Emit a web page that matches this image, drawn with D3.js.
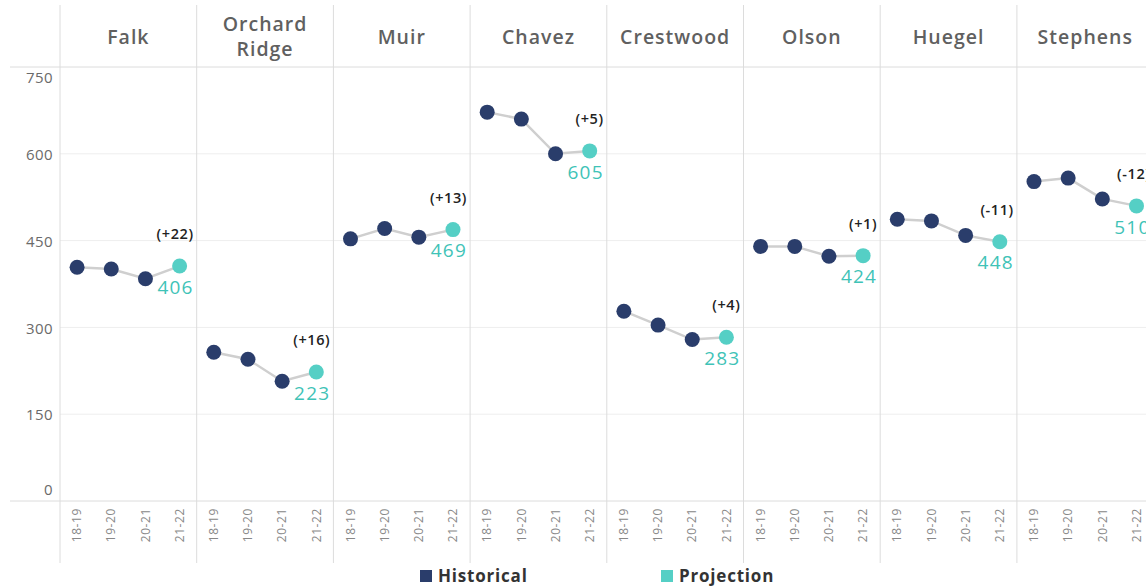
<!DOCTYPE html>
<html><head><meta charset="utf-8">
<script src="https://cdn.jsdelivr.net/npm/d3@7"></script>
<style>
html,body{margin:0;padding:0;background:#fff;overflow:hidden;}
svg{display:block;font-family:"Open Sans","DejaVu Sans",sans-serif;}
</style></head>
<body>
<svg id="chart" width="1146" height="588"></svg>
<script>
const schools = ["Falk","Orchard Ridge","Muir","Chavez","Crestwood","Olson","Huegel","Stephens"];
const years = ["18-19","19-20","20-21","21-22"];
const hist1819 = [404,257,453,672,328,440,487,552];
const hist1920 = [401,245,471,660,304,440,484,558];
const hist2021 = [384,207,456,600,279,423,459,522];
const proj2122 = [406,223,469,605,283,424,448,510];
const yTicks = [0,150,300,450,600,750];
const legendItems = ["Historical","Projection"];

(function(){
const NAVY = "#2a3d6b", TEAL = "#55cfc5", TEAL_TXT = "#3fc3b7", GRID = "#dcdcdc";
const svg = d3.select("#chart");

const leftX = 60, panelW = 136.7, topY = 67, bottomY = 501;
const outer = d3.scaleBand().domain(schools).range([leftX, leftX + panelW*schools.length]).padding(0);
const inner = d3.scalePoint().domain(years).range([0, outer.bandwidth()]).padding(0.5);
const y = d3.scaleLinear().domain([0,750]).range([bottomY, topY]);

// horizontal gridlines
svg.append("g").selectAll("line").data(yTicks.filter(t=>t>0 && t<750)).join("line")
  .attr("x1", leftX).attr("x2", 1146).attr("y1", d=>y(d)).attr("y2", d=>y(d))
  .attr("stroke", "#eeeeee").attr("stroke-width", 1);

// header line and bottom axis line
svg.append("line").attr("x1",10).attr("x2",1146).attr("y1",topY).attr("y2",topY).attr("stroke",GRID);
svg.append("line").attr("x1",10).attr("x2",1146).attr("y1",bottomY).attr("y2",bottomY).attr("stroke",GRID);

// panel dividers
const divs = schools.map(s=>outer(s)).concat([outer(schools[schools.length-1])+outer.bandwidth()]);
svg.append("g").selectAll("line").data(divs).join("line")
  .attr("x1", d=>d).attr("x2", d=>d).attr("y1", 5).attr("y2", 563)
  .attr("stroke", GRID).attr("stroke-width", 1);

// y axis labels
svg.append("g").selectAll("text").data(yTicks).join("text")
  .attr("x", 53).attr("y", d=> d===750 ? y(d)+11 : d===0 ? y(d)-11 : y(d)+1)
  .attr("dy","0.35em").attr("text-anchor","end")
  .attr("font-size", 15).attr("letter-spacing",0.4).attr("fill","#6a6a6a").text(d=>d);

// headers
schools.forEach(s=>{
  const cx = outer(s) + outer.bandwidth()/2;
  const words = s.split(" ");
  const t = svg.append("text").attr("text-anchor","middle").attr("fill","#606060")
    .attr("font-size",19.5).attr("font-weight",600).attr("letter-spacing",1);
  if (words.length === 1) {
    t.attr("x",cx).attr("y",37).attr("dy","0.35em").text(s);
  } else {
    words.forEach((w,i)=> t.append("tspan").attr("x",cx).attr("y", 24 + i*25).attr("dy","0.35em").text(w));
  }
});

// x tick labels
schools.forEach(s=>{
  years.forEach(yr=>{
    const x = outer(s) + inner(yr);
    svg.append("text").attr("transform",`translate(${x},508) rotate(-90)`)
      .attr("text-anchor","end").attr("dy","0.35em")
      .attr("font-size",12).attr("letter-spacing",0.6).attr("fill","#888").text(yr);
  });
});

// lines and dots
const line = d3.line().x(d=>d.x).y(d=>d.y);
schools.forEach((s,i)=>{
  const vals = [hist1819[i], hist1920[i], hist2021[i], proj2122[i]];
  const pts = vals.map((v,j)=>({x: outer(s)+inner(years[j]), y: y(v), v, proj: j===3}));
  svg.append("path").attr("d", line(pts)).attr("fill","none").attr("stroke","#cfcfcf").attr("stroke-width",2.5);
  svg.append("g").selectAll("circle").data(pts).join("circle")
    .attr("cx", d=>d.x).attr("cy", d=>d.y).attr("r", 7.5)
    .attr("fill", d=> d.proj ? TEAL : NAVY);
  const p = pts[3];
  const diff = proj2122[i] - hist2021[i];
  svg.append("text").attr("x", p.x+14).attr("y", p.y-32).attr("dy","0.35em")
    .attr("text-anchor","end").attr("font-size",14.5).attr("font-weight",600)
    .attr("letter-spacing",0.6).attr("fill","#222")
    .text(`(${diff>=0?"+":""}${diff})`);
  svg.append("text").attr("x", p.x+14).attr("y", p.y+21).attr("dy","0.35em")
    .attr("text-anchor","end").attr("font-size",19).attr("letter-spacing",1.2).attr("fill",TEAL_TXT)
    .text(proj2122[i]);
});

// legend
const legX = [420, 661];
legendItems.forEach((l,i)=>{
  svg.append("rect").attr("x",legX[i]).attr("y",570).attr("width",12).attr("height",12)
    .attr("fill", i===0 ? NAVY : TEAL);
  svg.append("text").attr("x",legX[i]+18).attr("y",576).attr("dy","0.35em")
    .attr("font-size",17).attr("font-weight",700).attr("letter-spacing",0.8).attr("fill","#333").text(l);
});
})();
</script>
</body></html>
